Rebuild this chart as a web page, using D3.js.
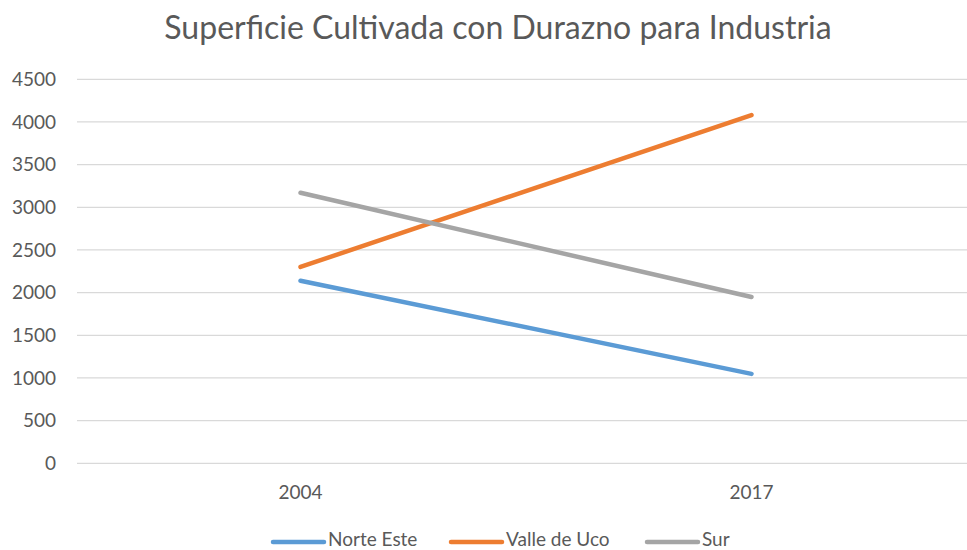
<!DOCTYPE html>
<html>
<head>
<meta charset="utf-8">
<script src="https://cdn.jsdelivr.net/npm/d3@7"></script>
<style>
  body { margin: 0; background: #fff; }
  svg { font-family: Lato, "Noto Sans", sans-serif; }
</style>
</head>
<body>
<div id="vis"></div>
<script>
const years = ["2004", "2017"];
const norteEste = [2140, 1048];
const valleDeUco = [2301, 4081];
const sur = [3170, 1949];
const yTicks = [0, 500, 1000, 1500, 2000, 2500, 3000, 3500, 4000, 4500];

const series = [
  { name: "Norte Este", values: norteEste, color: "#5b9bd5" },
  { name: "Valle de Uco", values: valleDeUco, color: "#ed7d31" },
  { name: "Sur", values: sur, color: "#a5a5a5" }
];

const W = 967, H = 550;
const textColor = "#595959";

const svg = d3.select("#vis").append("svg")
  .attr("width", W)
  .attr("height", H);

const x = d3.scaleBand()
  .domain(years)
  .range([75, 977]);

const y = d3.scaleLinear()
  .domain([0, 4500])
  .range([463.3, 79.3]);

// title
svg.append("text")
  .attr("x", 498)
  .attr("y", 39)
  .attr("text-anchor", "middle")
  .style("font-size", "32px")
  .attr("fill", textColor)
  .text("Superficie Cultivada con Durazno para Industria");

// gridlines
svg.append("g")
  .selectAll("line")
  .data(yTicks)
  .enter().append("line")
  .attr("x1", 77)
  .attr("x2", W)
  .attr("y1", d => y(d))
  .attr("y2", d => y(d))
  .attr("stroke", "#d9d9d9")
  .attr("stroke-width", 1.3);

// y axis labels
const yAxis = svg.append("g")
  .attr("transform", "translate(56,0)")
  .call(d3.axisLeft(y).tickValues(yTicks).tickFormat(d3.format("d")).tickSize(0).tickPadding(0));
yAxis.select(".domain").remove();
yAxis.selectAll("text")
  .attr("fill", textColor)
  .style("font-size", "19px")
  .style("font-family", "Lato, sans-serif");

// x axis labels
const xAxis = svg.append("g")
  .attr("transform", "translate(0,0)")
  .call(d3.axisBottom(x).tickSize(0).tickPadding(0));
xAxis.select(".domain").remove();
xAxis.selectAll("text")
  .attr("y", 499)
  .attr("dy", null)
  .attr("fill", textColor)
  .style("font-size", "19px")
  .style("font-family", "Lato, sans-serif");

// lines
const line = d3.line()
  .x((d, i) => x(years[i]) + x.bandwidth() / 2)
  .y(d => y(d));

svg.append("g")
  .selectAll("path")
  .data(series)
  .enter().append("path")
  .attr("d", d => line(d.values))
  .attr("fill", "none")
  .attr("stroke", d => d.color)
  .attr("stroke-width", 4.5)
  .attr("stroke-linecap", "round");

// legend
const legendX = [273, 451, 647];
const legend = svg.append("g");
series.forEach((s, i) => {
  legend.append("line")
    .attr("x1", legendX[i]).attr("x2", legendX[i] + 51)
    .attr("y1", 542).attr("y2", 542)
    .attr("stroke", s.color)
    .attr("stroke-width", 4.5)
    .attr("stroke-linecap", "round");
  legend.append("text")
    .attr("x", legendX[i] + 55)
    .attr("y", 546)
    .attr("fill", textColor)
    .style("font-size", "19px")
    .text(s.name);
});
</script>
</body>
</html>
